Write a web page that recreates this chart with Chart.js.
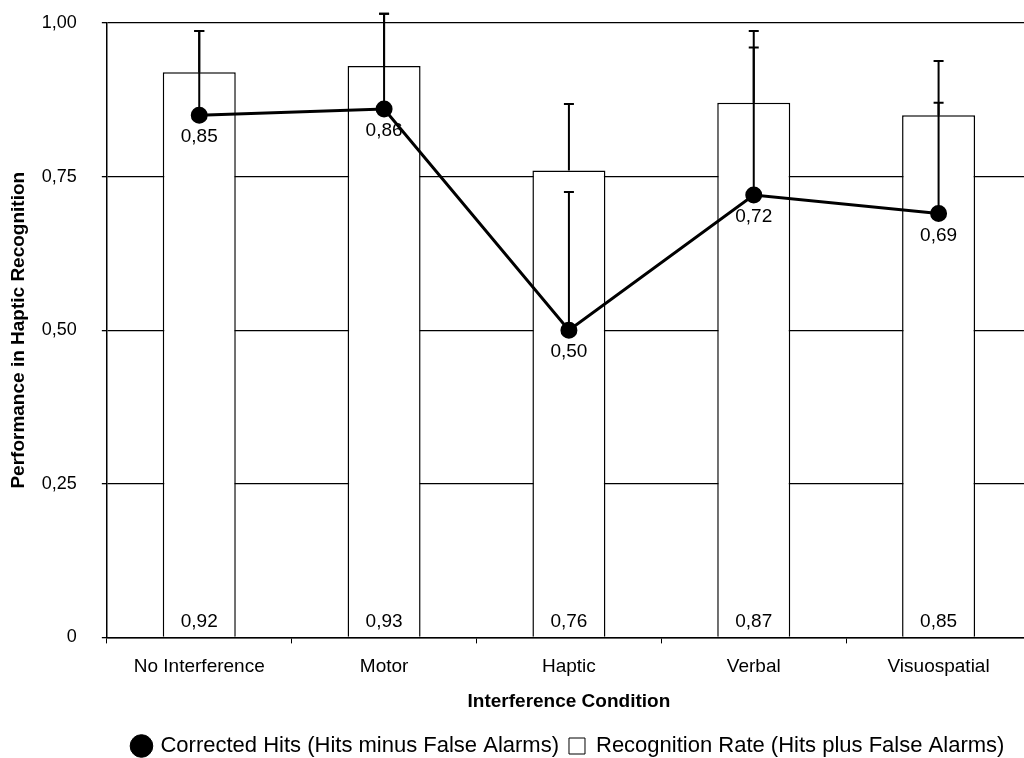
<!DOCTYPE html>
<html>
<head>
<meta charset="utf-8">
<script src="https://cdn.jsdelivr.net/npm/chart.js@4/dist/chart.umd.min.js"></script>
<style>
  html, body { margin: 0; padding: 0; background: #fff; overflow: hidden; }
  #wrap { position: absolute; left: 0; top: 0; width: 1024px; height: 758px; overflow: hidden; }
</style>
</head>
<body>
<div id="wrap"><canvas id="chart" width="1060" height="758"></canvas></div>
<script>
const categories = ['No Interference', 'Motor', 'Haptic', 'Verbal', 'Visuospatial'];
const correctedHits = [0.85, 0.86, 0.50, 0.72, 0.69];
const correctedHitsErr = [0.137, 0.155, 0.225, 0.267, 0.248];
const recognitionRate = [0.92, 0.93, 0.76, 0.87, 0.85];
const recognitionRateErr = [0.067, 0.085, 0.108, 0.09, 0.02];
const yTicks = [0, 0.25, 0.5, 0.75, 1];

const FONT = "'Liberation Sans', Arial, Helvetica, sans-serif";
const fmt = v => v === 0 ? '0' : v.toFixed(2).replace('.', ',');

// error bars (upper half only) + value labels
const extras = {
  id: 'extras',
  afterDatasetDraw(chart, args) {
    if (args.index !== 1) return;
    const ctx = chart.ctx;
    const y = chart.scales.y;
    const lineMeta = chart.getDatasetMeta(0);
    const barMeta = chart.getDatasetMeta(1);
    ctx.save();
    ctx.strokeStyle = '#000';
    ctx.lineWidth = 2;
    const drawErr = (x, v, e) => {
      const y0 = y.getPixelForValue(v);
      const y1 = y.getPixelForValue(v + e);
      ctx.beginPath();
      ctx.moveTo(x, y0); ctx.lineTo(x, y1);
      ctx.moveTo(x - 5, y1); ctx.lineTo(x + 5, y1);
      ctx.stroke();
    };
    barMeta.data.forEach((bar, i) => drawErr(bar.x, recognitionRate[i], recognitionRateErr[i]));
    lineMeta.data.forEach((pt, i) => drawErr(pt.x, correctedHits[i], correctedHitsErr[i]));
    // bar labels at bottom
    ctx.fillStyle = '#000';
    ctx.font = '19px ' + FONT;
    ctx.textAlign = 'center';
    ctx.textBaseline = 'middle';
    barMeta.data.forEach((bar, i) => {
      ctx.fillText(fmt(recognitionRate[i]), bar.x, y.getPixelForValue(0) - 16);
    });
    ctx.restore();
  },
  afterDatasetsDraw(chart) {
    const ctx = chart.ctx;
    const lineMeta = chart.getDatasetMeta(0);
    ctx.save();
    ctx.fillStyle = '#000';
    ctx.font = '19px ' + FONT;
    ctx.textAlign = 'center';
    ctx.textBaseline = 'middle';
    lineMeta.data.forEach((pt, i) => {
      ctx.fillText(fmt(correctedHits[i]), pt.x, pt.y + 22);
    });
    ctx.restore();
  }
};

new Chart(document.getElementById('chart'), {
  type: 'bar',
  data: {
    labels: categories,
    datasets: [
      {
        type: 'line',
        label: 'Corrected Hits (Hits minus False Alarms)',
        data: correctedHits,
        borderColor: '#000',
        backgroundColor: '#000',
        borderWidth: 3,
        pointRadius: 7,
        pointBackgroundColor: '#000',
        pointBorderColor: '#000',
        order: 0
      },
      {
        type: 'bar',
        label: 'Recognition Rate (Hits plus False Alarms)',
        data: recognitionRate,
        backgroundColor: '#fff',
        borderColor: '#000',
        borderWidth: 1.5,
        barPercentage: 0.395,
        categoryPercentage: 1,
        order: 1
      }
    ]
  },
  options: {
    responsive: false,
    animation: false,
    layout: { padding: { top: 23, right: 29, left: 7, bottom: -9 } },
    plugins: {
      tooltip: { enabled: false },
      legend: {
        position: 'bottom',
        fullSize: false,
        labels: {
          color: '#000',
          font: { family: FONT, size: 22 },
          usePointStyle: true,
          boxWidth: 16,
          boxHeight: 16,
          padding: 10,
          generateLabels(chart) {
            return [
              { text: 'Corrected Hits (Hits minus False Alarms)', pointStyle: 'circle', fillStyle: '#000', strokeStyle: '#000', lineWidth: 1, datasetIndex: 0 },
              { text: 'Recognition Rate (Hits plus False Alarms)', pointStyle: 'rect', fillStyle: '#fff', strokeStyle: '#000', lineWidth: 1, datasetIndex: 1 }
            ];
          }
        }
      }
    },
    scales: {
      x: {
        afterFit(scale) { scale.paddingLeft = 0; scale.paddingRight = 0; },
        grid: { display: true, drawOnChartArea: false, offset: true, color: '#000', tickLength: 6 },
        border: { color: '#000', width: 1.5 },
        ticks: { color: '#000', font: { family: FONT, size: 19 }, padding: 12 },
        title: { display: true, text: 'Interference Condition', color: '#000', font: { family: FONT, size: 19, weight: 'bold' }, padding: { top: 0, bottom: 12 } }
      },
      y: {
        min: 0,
        max: 1,
        afterBuildTicks(axis) { axis.ticks = yTicks.map(v => ({ value: v })); },
        afterFit(scale) { scale.paddingTop = 11; scale.paddingBottom = 11; },
        grid: { color: '#000', lineWidth: 1.3, tickLength: 5 },
        border: { color: '#000', width: 1.5 },
        ticks: { color: '#000', font: { family: FONT, size: 18 }, padding: 25, callback: v => fmt(v) },
        title: { display: true, text: 'Performance in Haptic Recognition', color: '#000', font: { family: FONT, size: 19, weight: 'bold' }, padding: { top: 0, bottom: -13 } }
      }
    }
  },
  plugins: [extras]
});
</script>
</body>
</html>
